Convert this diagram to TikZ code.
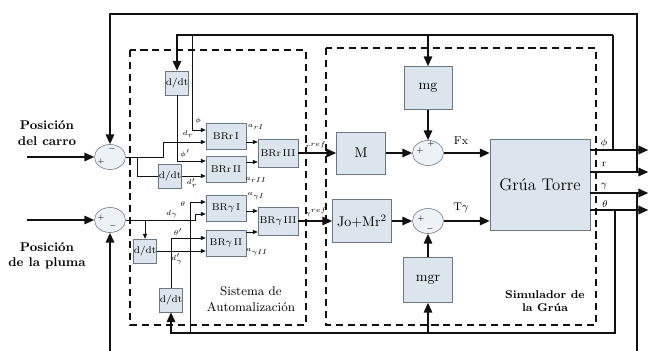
\documentclass[tikz,border=0pt]{standalone}
\usepackage{amsmath,amssymb}
\usetikzlibrary{arrows.meta,calc,shapes.geometric}
\definecolor{ink}{HTML}{111111}
\definecolor{boxc}{HTML}{DCE4EE}
\definecolor{edge}{HTML}{6E7680}
\tikzset{blk/.style={draw=edge,fill=boxc,inner sep=0pt,font=\scriptsize},
  dd/.style={blk,minimum width=.575cm,minimum height=.6cm},
  br/.style={blk,minimum width=1cm,minimum height=.65cm},
  brr/.style={blk,minimum width=1cm,minimum height=.7cm},
  big/.style={blk,font=\normalsize},
  sm/.style={ellipse,draw=edge,fill=boxc!50,minimum width=.775cm,minimum height=.625cm,inner sep=0pt},
  sig/.style={line width=1.3pt,draw=ink,-{Triangle[length=7pt,width=6pt]}},
  fb/.style={line width=1.3pt,draw=ink},
  ln/.style={line width=.6pt,draw=ink,-{Triangle[length=3.5pt,width=3pt]}},
  wire/.style={line width=.6pt,draw=ink},
  dbox/.style={line width=1.2pt,dash pattern=on 5pt off 3.5pt,draw=ink},
  lbl/.style={font=\tiny,inner sep=0pt},sgn/.style={font=\tiny,inner sep=0pt}}
\begin{document}
\begin{tikzpicture}[x=.025cm,y=-.025cm]
\useasboundingbox (0,0) rectangle (650,350);
\draw[dbox] (130,50) rectangle (306,325);
\draw[dbox] (326,48) rectangle (596,325);
\node[font=\small\bfseries,align=center] (tcarro) at (47,133) {Posición\\del carro};
\node[font=\small\bfseries,align=center] (tpluma) at (47,256) {Posición\\de la pluma};
\node[font=\small,align=center] (tauto) at (251,299) {Sistema de\\Automalización};
\node[font=\footnotesize\bfseries,align=center] (tsim) at (545,301) {Simulador de\\la Grúa};
\node[sm] (s1) at (110,157) {};\node[sm] (s2) at (110,220) {};
\node[sgn] (s1a) at (101,162) {$+$};\node[sgn] (s1b) at (112,149) {$-$};
\node[sgn] (s2a) at (101,218) {$+$};\node[sgn] (s2b) at (113,226) {$-$};
\coordinate (incarro) at (27,157);\coordinate (inpluma) at (27,220);
\draw[sig] (incarro)--(s1);\draw[sig] (inpluma)--(s2);
\node[dd] (dt1) at (177,83) {d/dt};\node[dd] (dt2) at (170,176) {d/dt};
\node[dd] (dt3) at (145,251) {d/dt};\node[dd] (dt4) at (171,300) {d/dt};
\node[br] (brr1) at (226,136) {BRr\,I};\node[br] (brr2) at (226,169) {BRr\,II};
\node[brr] (brr3) at (278,153) {BRr\,III};
\node[br] (bry1) at (226,208) {BR$\gamma$\,I};\node[br] (bry2) at (226,243) {BR$\gamma$\,II};
\node[brr] (bry3) at (278,221) {BR$\gamma$\,III};
\node[big,minimum width=1.2cm,minimum height=1.075cm] (mg) at (428,88) {mg};
\node[big,minimum width=1.225cm,minimum height=1.05cm] (M) at (361,153) {M};
\node[big,minimum width=1.475cm,minimum height=1.075cm] (jo) at (362,221) {Jo+Mr$^2$};
\node[big,minimum width=1.225cm,minimum height=1.125cm] (mgr) at (428,280) {mgr};
\node[blk,font=\large,minimum width=2.5cm,minimum height=2.275cm] (grua) at (540,185) {Grúa Torre};
\node[sm] (s3) at (428,153) {};\node[sm] (s4) at (428,221) {};
\node[sgn] (s3a) at (420,151) {$+$};\node[sgn] (s3b) at (431,144) {$+$};
\node[sgn] (s4a) at (421,219) {$+$};\node[sgn] (s4b) at (430,229) {$-$};
\coordinate (b1) at ($(s1.east)+(12,0)$);
\draw[ln] (s1.east)--++(38,0)|-($(brr1.west)+(0,6)$);
\draw[wire] (b1)|-(dt2.west);
\draw[ln] (dt2.east)--(dt2.east -| brr2.west);
\draw[ln] (dt1.south)|-($(brr2.west)+(0,-8)$);
\draw[ln] ($(brr1.east)+(0,6)$)--($(brr3.west)+(0,-11)$);
\draw[ln] ($(brr2.east)+(0,-7)$)--($(brr3.west)+(0,9)$);
\draw[ln] (s2.east)--++(70,0)|-($(bry1.west)+(0,6)$);
\draw[ln] (s2.east -| dt3.north)--(dt3.north);
\draw[ln] (dt3.east)--(dt3.east -| bry2.west);
\draw[ln] (dt4.north)|-($(bry2.west)+(0,-5)$);
\draw[ln] ($(bry1.east)+(0,3)$)--($(bry3.west)+(0,-10)$);
\draw[ln] ($(bry2.east)+(0,-11)$)--($(bry3.west)+(0,11)$);
\draw[sig] (brr3)--(M);\draw[sig] (M)--(s3);\draw[sig] (mg)--(s3);
\draw[sig] (s3.east)--(s3.east -| grua.west);
\draw[sig] (bry3)--(jo);\draw[sig] (jo)--(s4);\draw[sig] (mgr)--(s4);
\draw[sig] (s4.east)--(s4.east -| grua.west);
\draw[sig] ($(grua.east)+(0,-35)$)--++(58,0);\draw[sig] ($(grua.east)+(0,-13)$)--++(58,0);
\draw[sig] ($(grua.east)+(0,8)$)--++(58,0);\draw[sig] ($(grua.east)+(0,25)$)--++(58,0);
\coordinate (pj) at (613,150);\coordinate (ptop) at (613,35);\coordinate (pb) at (192,35);
\draw[fb] (pj)--(ptop);
\draw[sig] (ptop)-|(dt1.north);
\draw[sig] (ptop -| mg.north)--(mg.north);
\draw[ln] (pb)|-($(brr1.west)+(0,-6)$);
\coordinate (rj) at (637,172);\coordinate (yj) at (637,193);
\draw[sig] (rj)--(637,14)-|(s1.north);
\draw[sig] (yj)--(637,365)-|(s2.south);
\coordinate (tj) at (615,210);\coordinate (tb) at (615,333);\coordinate (thb) at (190,333);
\draw[sig] (tj)--(tb)-|(dt4.south);
\draw[sig] (tb -| mgr.south)--(mgr.south);
\draw[ln] (thb)|-($(bry1.west)+(0,-6)$);
\node[lbl] (lphi) at (198,121) {$\phi$};\node[lbl] (ldr) at (188,134) {$d_r$};
\node[lbl] (ldphi) at (185,154) {$\phi'$};\node[lbl] (lddr) at (192,183) {$d'_r$};
\node[lbl] (lth) at (183,204) {$\theta$};\node[lbl] (ldy) at (172,214) {$d_\gamma$};
\node[lbl] (ldth) at (178,232) {$\theta'$};\node[lbl] (lddy) at (177,259) {$d'_\gamma$};
\node[lbl] (lar1) at (256,127) {$a_{rI}$};\node[lbl] (lar2) at (256,180) {$a_{rII}$};
\node[lbl] (lay1) at (256,196) {$a_{\gamma I}$};\node[lbl] (lay2) at (257,252) {$a_{\gamma II}$};
\node[lbl] (lrref) at (316,145) {$r^{ref}$};\node[lbl] (lyref) at (316,212) {$\gamma^{ref}$};
\node[font=\footnotesize] (lfx) at (461,141) {Fx};\node[font=\footnotesize] (lty) at (461,208) {T$\gamma$};
\node[font=\scriptsize] (ophi) at (604,143) {$\phi$};\node[font=\scriptsize] (or) at (604,164) {r};
\node[font=\scriptsize] (oy) at (604,186) {$\gamma$};\node[font=\scriptsize] (ot) at (605,204) {$\theta$};
\end{tikzpicture}
\end{document}
